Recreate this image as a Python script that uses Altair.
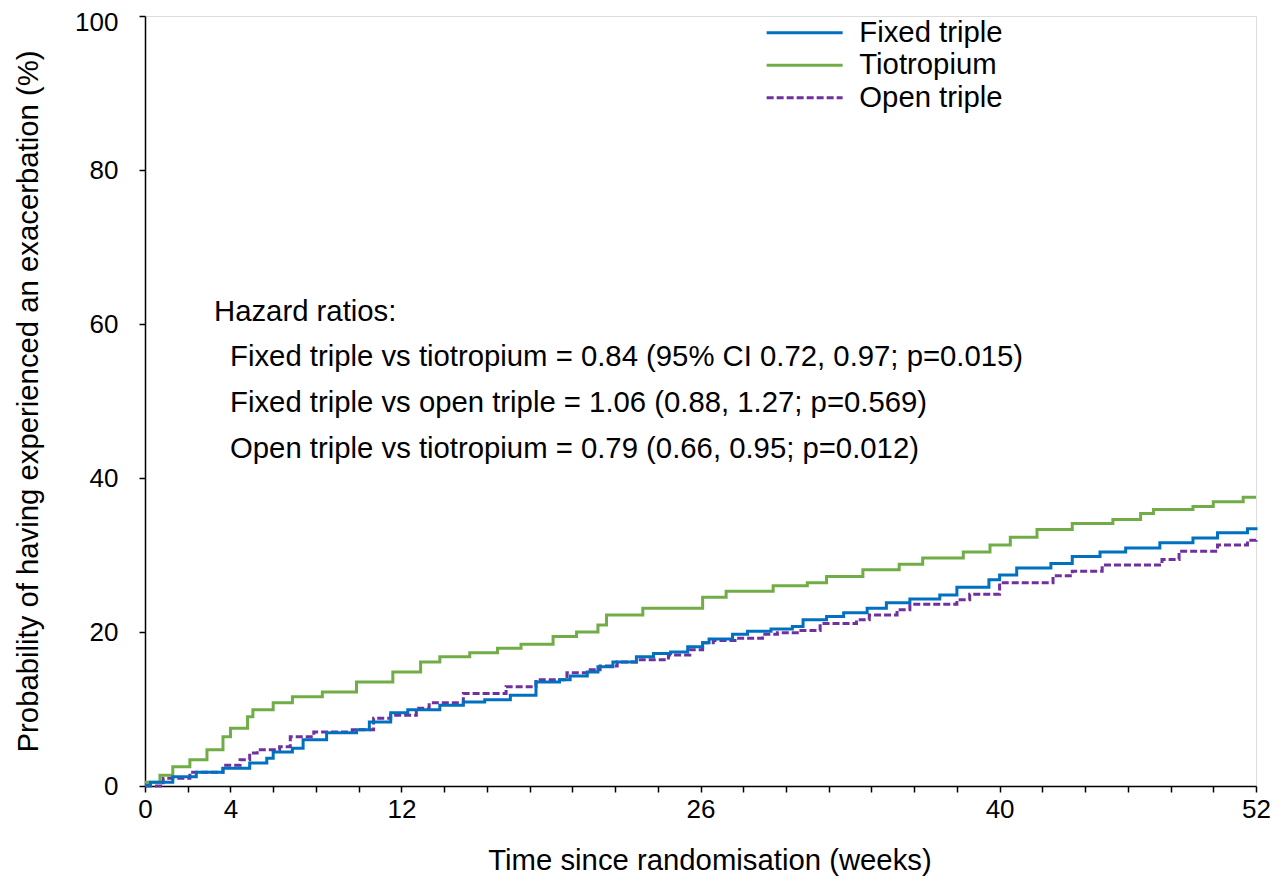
import altair as alt
import pandas as pd

series_names = ["Fixed triple", "Tiotropium", "Open triple"]
series_colors = ["#0070C0", "#70AD47", "#7030A0"]

# Kaplan-Meier style cumulative probability (%): step starts
fixed_weeks = [0, 0.25, 1.3, 2.4, 3.65, 4.9, 5.7, 6.0, 6.9, 7.4, 8.5, 9.9, 10.5, 11.5, 12.3, 13.8,
               14.9, 15.9, 17.1, 18.3, 19.4, 19.9, 20.7, 21.2, 21.9, 23.0, 23.8, 24.6, 25.4, 26.1, 26.4,
               27.5, 28.2, 29.3, 30.3, 30.8, 31.9, 32.7, 33.8, 34.7, 35.8, 37.2, 38.0, 39.5, 40.0,
               40.8, 42.4, 43.4, 44.7, 45.9, 47.5, 49.05, 50.2, 51.6, 52]
fixed_pct = [0.1, 0.5, 1.2, 1.8, 2.3, 3.0, 3.6, 4.4, 4.9, 6.0, 6.9, 7.3, 8.3, 9.5, 9.9, 10.5,
             10.9, 11.2, 11.8, 13.5, 13.8, 14.3, 14.8, 15.5, 16.1, 16.8, 17.2, 17.4, 18.1, 18.6, 19.1,
             19.7, 20.1, 20.4, 20.7, 21.6, 22.0, 22.5, 23.1, 23.8, 24.3, 24.8, 25.8, 26.8, 27.4,
             28.3, 28.9, 29.8, 30.4, 30.9, 31.6, 32.2, 32.9, 33.4, 33.6]

tio_weeks = [0, 0.7, 1.3, 2.1, 2.9, 3.65, 4.0, 4.8, 5.05, 6.0, 6.9, 8.3, 9.9, 11.6, 12.9, 13.8,
             15.2, 16.5, 17.6, 19.1, 20.2, 21.2, 21.6, 23.3, 26.1, 27.2, 29.4, 31.0, 31.9, 33.6, 35.3,
             36.4, 38.3, 39.55, 40.5, 41.75, 43.4, 45.3, 46.6, 47.2, 49.05, 50.0, 51.4, 52]
tio_pct = [0.5, 1.4, 2.5, 3.4, 4.7, 6.4, 7.5, 9.0, 9.9, 10.8, 11.6, 12.2, 13.5, 14.8, 16.1, 16.8,
           17.3, 17.9, 18.4, 19.4, 20.0, 20.9, 22.2, 23.1, 24.5, 25.3, 26.0, 26.4, 27.2, 28.1, 28.8,
           29.6, 30.4, 31.3, 32.3, 33.3, 34.1, 34.6, 35.4, 35.9, 36.3, 36.9, 37.5, 37.5]

open_weeks = [0, 0.85, 2.1, 3.65, 4.45, 4.9, 5.25, 6.3, 6.8, 7.9, 9.7, 10.7, 11.5, 12.7, 13.3,
              14.9, 16.9, 18.3, 19.75, 20.7, 21.3, 22.1, 23.0, 24.5, 25.5, 26.1, 26.6, 27.7, 28.9,
              29.6, 30.7, 31.6, 33.3, 33.9, 35.2, 35.8, 38.0, 38.6, 40.0, 42.5, 43.4, 44.8, 47.6,
              48.4, 50.2, 51.6, 52]
open_pct = [0.0, 1.0, 1.8, 2.7, 3.4, 4.3, 4.7, 5.1, 6.4, 7.0, 7.3, 8.8, 9.2, 10.1, 10.8,
            12.0, 12.9, 13.8, 14.7, 15.1, 15.6, 16.1, 16.4, 17.0, 17.7, 18.6, 18.9, 19.2, 19.7,
            19.9, 20.2, 21.1, 21.6, 22.2, 22.9, 23.6, 24.2, 24.9, 26.4, 27.3, 27.9, 28.7, 29.4,
            30.5, 31.3, 31.9, 32.1]

x_tick_values = list(range(0, 53, 2))
x_labelled = [0, 4, 12, 26, 40, 52]
y_tick_values = [0, 20, 40, 60, 80, 100]

note_lines = [
    "Hazard ratios:",
    "Fixed triple vs tiotropium = 0.84 (95% CI 0.72, 0.97; p=0.015)",
    "Fixed triple vs open triple = 1.06 (0.88, 1.27; p=0.569)",
    "Open triple vs tiotropium = 0.79 (0.66, 0.95; p=0.012)",
]
note_x = [3.23, 3.98, 3.98, 3.98]
note_y = [61.6, 55.7, 49.7, 43.8]

rows = []
for name, ws, ps in [("Open triple", open_weeks, open_pct),
                     ("Tiotropium", tio_weeks, tio_pct),
                     ("Fixed triple", fixed_weeks, fixed_pct)]:
    for w, p in zip(ws, ps):
        rows.append({"series": name, "week": w, "pct": p})
df = pd.DataFrame(rows)

notes = pd.DataFrame({"text": note_lines, "x": note_x, "y": note_y})

FONT = "Liberation Sans, Arial, Helvetica, sans-serif"
TXT = 29.3

leg = alt.Legend(
    title=None, orient="none", legendX=645, legendY=2,
    symbolType="M-4,0H4", symbolSize=361, symbolStrokeWidth=3,
    labelFontSize=TXT, labelFont=FONT, labelColor="black", labelOffset=40,
    rowPadding=2.5, padding=0,
)

labels_shown = "[" + ",".join(str(v) for v in x_labelled) + "]"
x_axis = alt.Axis(
    values=x_tick_values,
    labelExpr="indexof(" + labels_shown + ", datum.value) >= 0 ? datum.label : ''",
    title="Time since randomisation (weeks)",
    titleFontSize=TXT, titleFont=FONT, titleFontWeight="normal", titleColor="black",
    titleX=564.5, titleY=74, titleBaseline="middle", titleAlign="center",
    labelFontSize=26, labelFont=FONT, labelColor="black", labelPadding=4,
    tickSize=6, tickColor="black", tickWidth=1.5,
    domainColor="black", domainWidth=1.5, grid=False, labelFlush=False,
)
y_axis = alt.Axis(
    values=y_tick_values,
    title="Probability of having experienced an exacerbation (%)",
    titleFontSize=TXT, titleFont=FONT, titleFontWeight="normal", titleColor="black",
    titleX=-117, titleY=385, titleAngle=-90, titleBaseline="middle", titleAlign="center",
    labelFontSize=26, labelFont=FONT, labelColor="black", labelPadding=21,
    labelOffset={"condition": {"test": "datum.value === 100", "value": 6}, "value": 0},
    tickSize=6, tickColor="black", tickWidth=1.5,
    domainColor="black", domainWidth=1.5, grid=False, labelFlush=False,
)

lines = alt.Chart(df).mark_line(interpolate="step-after", strokeWidth=3).encode(
    x=alt.X("week:Q", scale=alt.Scale(domain=[0, 52], nice=False, zero=False), axis=x_axis),
    y=alt.Y("pct:Q", scale=alt.Scale(domain=[0, 100], nice=False), axis=y_axis),
    color=alt.Color("series:N", scale=alt.Scale(domain=series_names, range=series_colors),
                    sort=series_names, legend=leg),
    strokeDash=alt.StrokeDash("series:N",
                              scale=alt.Scale(domain=series_names, range=[[1, 0], [1, 0], [7, 3]]),
                              sort=series_names, legend=leg),
)

text = alt.Chart(notes).mark_text(align="left", baseline="middle", fontSize=TXT, font=FONT,
                                   color="black").encode(
    x="x:Q", y="y:Q", text="text:N"
)

chart = alt.layer(lines, text).properties(
    width=1111, height=770,
    padding={"left": 137, "top": 8, "right": 16, "bottom": 90},
    autosize=alt.AutoSizeParams(type="none"),
).configure_view(stroke=None).configure(background="white")

chart.save("out.html", embed_options={"renderer": "svg", "actions": False})
